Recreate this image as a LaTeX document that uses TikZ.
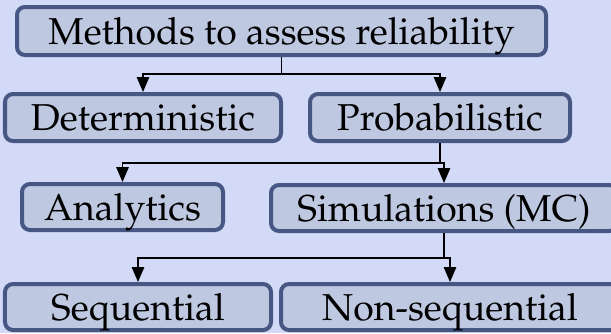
\documentclass[tikz,border=0pt]{standalone}
\usepackage[T1]{fontenc}
\usepackage{mathpazo}
\usetikzlibrary{positioning, arrows.meta}
\definecolor{bgblue}{HTML}{D3DAF7}
\definecolor{boxfill}{HTML}{BFC8E1}
\definecolor{boxline}{HTML}{475784}

\begin{document}
\begin{tikzpicture}[
        method/.style={rectangle, draw=boxline, line width=0.08cm, fill=boxfill, rounded corners=0.16cm, inner sep=0pt, text centered, text height=0.52cm, text depth=0pt, minimum height=0.92cm, font=\fontsize{21.3}{26}\selectfont},
        arrow/.style={line width=0.026cm, -{Triangle[width=0.25cm, length=0.3cm]}}
    ]
    \useasboundingbox (0,0) rectangle (12.22,-6.66);
    \fill[bgblue] (0,0) rectangle (12.22,-6.66);
    \clip (0,0) rectangle (12.22,-6.66);

    \node[method, minimum width=10.58cm, minimum height=0.96cm] (methods) at (5.63,-0.62) {Methods to assess reliability};
    \node[method, minimum width=5.52cm, minimum height=0.94cm] (determ) at (2.86,-2.35) {Deterministic};
    \node[method, minimum width=5.2cm, minimum height=0.94cm] (probab) at (8.80,-2.35) {Probabilistic};
    \node[method, minimum width=4.02cm] (analytic) at (2.45,-4.14) {Analytics};
    \node[method, minimum width=6.92cm] (simul) at (8.88,-4.16) {Simulations (MC)};
    \node[method, minimum width=5.32cm] (sequent) at (2.76,-6.14) {Sequential};
    \node[method, minimum width=6.76cm] (nonseq) at (9.0,-6.14) {Non-sequential};

    \coordinate[below=0.34cm of methods.south] (split1);
    \coordinate[below=0.4cm of probab.south] (split2);
    \coordinate[below=0.5cm of simul.south] (split3);

    \draw[arrow] (methods.south) -- (split1) -| (determ.north);
    \draw[arrow] (split1) -| (probab.north);
    \draw[arrow] (probab.south) -- (split2) -| (analytic.north);
    \draw[arrow] (split2) -| (simul.north);
    \draw[arrow] (simul.south) -- (split3) -| (sequent.north);
    \draw[arrow] (split3) -| (nonseq.north);
\end{tikzpicture}
\end{document}
